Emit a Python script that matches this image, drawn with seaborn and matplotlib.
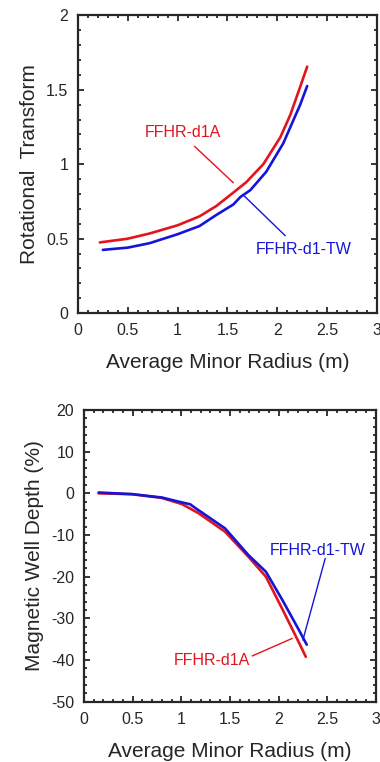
import pandas as pd
import numpy as np
import matplotlib.pyplot as plt
import seaborn as sns
from matplotlib.ticker import MultipleLocator

sns.set_style('ticks')
plt.rcParams['font.family'] = ['Liberation Sans', 'DejaVu Sans']

# rotational transform (top)
r_iota_d1a = [0.22, 0.5, 0.72, 1.0, 1.22, 1.39, 1.56, 1.69, 1.86, 2.03, 2.13, 2.23, 2.3]
iota_d1a = [0.475, 0.50, 0.535, 0.59, 0.65, 0.72, 0.81, 0.88, 1.0, 1.18, 1.33, 1.52, 1.655]
r_iota_tw = [0.25, 0.5, 0.72, 1.0, 1.22, 1.39, 1.56, 1.63, 1.73, 1.89, 2.06, 2.23, 2.3]
iota_tw = [0.425, 0.44, 0.47, 0.53, 0.585, 0.66, 0.73, 0.78, 0.826, 0.95, 1.14, 1.40, 1.525]

# magnetic well depth (bottom)
r_well_d1a = [0.15, 0.49, 0.8, 1.01, 1.18, 1.45, 1.69, 1.87, 2.04, 2.21, 2.28]
well_d1a = [0.0, -0.2, -1.1, -2.6, -4.8, -9.2, -15.2, -20.0, -27.8, -35.8, -39.2]
r_well_tw = [0.15, 0.5, 0.8, 1.01, 1.09, 1.15, 1.45, 1.69, 1.87, 2.04, 2.21, 2.29]
well_tw = [0.2, -0.2, -1.0, -2.2, -2.6, -3.6, -8.4, -14.8, -18.8, -25.6, -32.8, -36.3]

red = '#e3141c'
blue = '#1515d8'

top = pd.concat([
    pd.DataFrame({'r': r_iota_d1a, 'v': iota_d1a, 'case': 'FFHR-d1A'}),
    pd.DataFrame({'r': r_iota_tw, 'v': iota_tw, 'case': 'FFHR-d1-TW'}),
])
bot = pd.concat([
    pd.DataFrame({'r': r_well_d1a, 'v': well_d1a, 'case': 'FFHR-d1A'}),
    pd.DataFrame({'r': r_well_tw, 'v': well_tw, 'case': 'FFHR-d1-TW'}),
])
pal = {'FFHR-d1A': red, 'FFHR-d1-TW': blue}

fig = plt.figure(figsize=(3.8, 7.62), dpi=100)
ax1 = fig.add_axes([0.205, 0.589, 0.787, 0.391])
ax2 = fig.add_axes([0.221, 0.079, 0.768, 0.383])

sns.lineplot(data=top, x='r', y='v', hue='case', palette=pal, lw=1.9,
             legend=False, ax=ax1, sort=False, estimator=None)
sns.lineplot(data=bot, x='r', y='v', hue='case', palette=pal, lw=1.9,
             legend=False, ax=ax2, sort=False, estimator=None)

def style(ax, ylim, ymaj, ymin, ylabel):
    ax.set_xlim(0, 3)
    ax.set_ylim(*ylim)
    ax.xaxis.set_major_locator(MultipleLocator(0.5))
    ax.xaxis.set_minor_locator(MultipleLocator(0.1))
    ax.yaxis.set_major_locator(MultipleLocator(ymaj))
    ax.yaxis.set_minor_locator(MultipleLocator(ymin))
    ax.tick_params(which='both', direction='in', top=True, right=True,
                   width=1.3, labelsize=11.5, pad=7)
    ax.tick_params(which='major', length=4)
    ax.tick_params(which='minor', length=2.5)
    for s in ax.spines.values():
        s.set_linewidth(1.6)
        s.set_visible(True)
    ax.set_xlabel('Average Minor Radius (m)', fontsize=15, labelpad=11)
    ax.set_ylabel(ylabel, fontsize=15, labelpad=5)
    ax.xaxis.set_major_formatter(plt.FuncFormatter(lambda v, p: f'{v:g}'))
    ax.yaxis.set_major_formatter(plt.FuncFormatter(lambda v, p: f'{v:g}'))

style(ax1, (0, 2), 0.5, 0.1, 'Rotational  Transform')
style(ax2, (-50, 20), 10, 2, 'Magnetic Well Depth (%)')

def label(ax, text, pos, start, end, color):
    ax.text(*pos, text, color=color, fontsize=11.5, ha='center', va='center')
    ax.annotate('', xy=end, xytext=start,
                arrowprops=dict(arrowstyle='-', color=color, lw=1,
                                shrinkA=0, shrinkB=0))

label(ax1, 'FFHR-d1A', (1.05, 1.21), (1.17, 1.12), (1.56, 0.875), red)
label(ax1, 'FFHR-d1-TW', (2.26, 0.43), (2.08, 0.52), (1.67, 0.786), blue)
label(ax2, 'FFHR-d1-TW', (2.40, -13.6), (2.48, -15.6), (2.25, -35.2), blue)
label(ax2, 'FFHR-d1A', (1.31, -40), (1.73, -39.0), (2.14, -34.8), red)

fig.savefig('out.png', dpi=100)
